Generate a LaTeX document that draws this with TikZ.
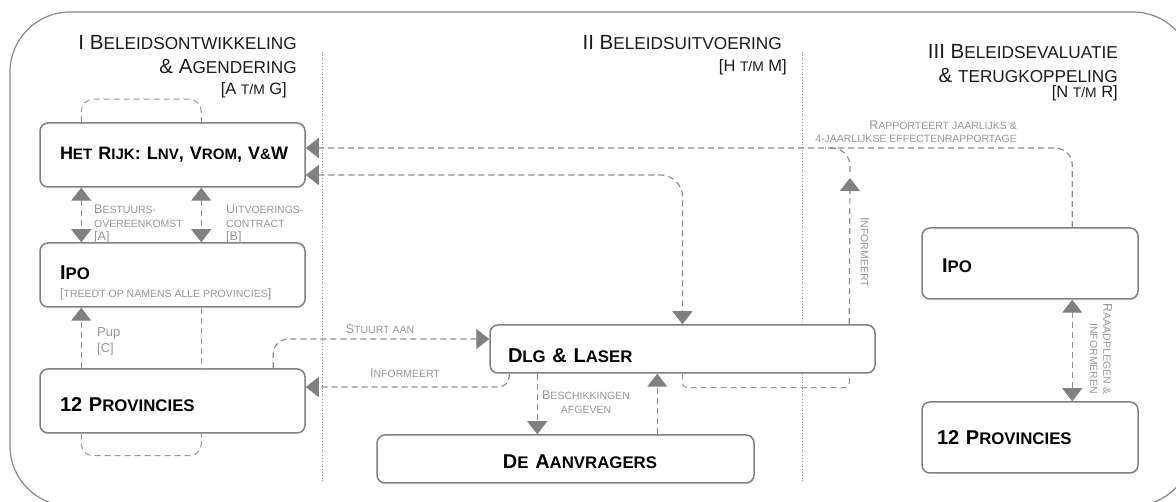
\documentclass[tikz,border=0pt]{standalone}
\usepackage{fontspec}
\setmainfont{Liberation Sans}
\usetikzlibrary{arrows.meta,calc}
\definecolor{framecol}{HTML}{888888}
\definecolor{boxline}{HTML}{7F7F7F}
\definecolor{conncol}{HTML}{8C8C8C}
\definecolor{tipcol}{HTML}{808080}
\definecolor{lblcol}{HTML}{969696}
\definecolor{sepcol}{HTML}{A0A0A0}
\definecolor{hdrcol}{HTML}{1A1A1A}
\makeatletter
\newcommand\lo[1]{{\@tempdima=\f@size pt\@tempdima=0.84\@tempdima\fontsize{\strip@pt\@tempdima}{\f@baselineskip}\selectfont #1}}
\makeatother
\tikzset{
  box/.style={draw=boxline, line width=1.5pt, rounded corners=8pt, fill=white,
    inner ysep=0pt, align=left, text depth=0pt, text=black,
    font=\fontsize{20}{24}\selectfont\bfseries},
  conn/.style={draw=conncol, line width=1.2pt, dash pattern=on 6pt off 4pt},
  loopline/.style={draw=lblcol, line width=1pt, dash pattern=on 6pt off 4pt},
  lbl/.style={text=lblcol, font=\fontsize{12.5}{13.3}\selectfont, inner sep=0pt},
  hdr/.style={font=\fontsize{20.5}{24}\selectfont, text=hdrcol, inner sep=0pt, anchor=base east},
  hdrs/.style={hdr, font=\fontsize{16.5}{20}\selectfont},
  sepline/.style={draw=sepcol, line width=0.8pt, dotted},
  >={Triangle[width=20pt,length=13pt,color=tipcol]},
}
\begin{document}
\begin{tikzpicture}[x=1pt,y=-1pt]
\useasboundingbox (0,0) rectangle (1176,502);
\begin{scope}
  \clip (0,0) rectangle (1176,502);
  \draw[draw=framecol, line width=1.2pt, rounded corners=60pt] (10,12) rectangle (1193,506);
\end{scope}

% separators
\draw[sepline] (322,52) -- (322,483);
\draw[sepline] (802,52) -- (802,483);

% headers
\node[hdr] (h1a) at (297,50) {I B\lo{ELEIDSONTWIKKELING}};
\node[hdr] (h1b) at (297,74) {\& A\lo{GENDERING}};
\node[hdrs] (h1c) at (287,95) {[A \lo{T/M} G]};
\node[hdr] (h2a) at (782,50) {II B\lo{ELEIDSUITVOERING}};
\node[hdrs] (h2b) at (787,72) {[H \lo{T/M} M]};
\node[hdr] (h3a) at (1118,59) {III B\lo{ELEIDSEVALUATIE}};
\node[hdr] (h3b) at (1118,83) {\& \lo{TERUGKOPPELING}};
\node[hdrs] (h3c) at (1118,98) {[N \lo{T/M} R]};

% boxes
\node[box, minimum width=265pt, minimum height=64pt, text width=225pt, inner xsep=20pt,
  text height=10pt, font=\fontsize{18}{22}\selectfont\bfseries] (rijk) at (172.5,155)
  {\mbox{H\lo{ET} R\lo{IJK}: L\lo{NV}, V\lo{ROM}, V\lo{\&}W}};
\node[box, minimum width=265pt, minimum height=64pt, text width=225pt, inner xsep=20pt,
  text height=10pt] (ipoL) at (172.5,275) {I\lo{PO}};
\node[lbl, anchor=base west] (ipoSub) at (60,298) {[\lo{TREEDT OP NAMENS ALLE PROVINCIES}]};
\node[box, minimum width=265pt, minimum height=64pt, text width=225pt, inner xsep=20pt,
  text height=22pt] (provL) at (172.5,401) {12 P\lo{ROVINCIES}};
\node[box, minimum width=385pt, minimum height=48pt, text width=349pt, inner xsep=18pt,
  text height=28pt] (dlg) at (682.5,349) {D\lo{LG} \& L\lo{ASER}};
\node[box, minimum width=377pt, minimum height=48pt, text width=377pt, inner xsep=0pt,
  text height=18pt, align=center] (aanv) at (565.5,459) {\hspace*{29pt}D\lo{E} A\lo{ANVRAGERS}};
\node[box, minimum width=216pt, minimum height=71pt, text width=176pt, inner xsep=20pt,
  text height=19pt] (ipoR) at (1030,263.5) {I\lo{PO}};
\node[box, minimum width=216pt, minimum height=71pt, text width=186pt, inner xsep=15pt,
  text height=15pt] (provR) at (1030,437.5) {12 P\lo{ROVINCIES}};

% left column connectors
\draw[loopline, rounded corners=12pt] ([xshift=42pt]rijk.north west) -- ++(0,-23) -| ([xshift=162pt]rijk.north west);
\draw[loopline, rounded corners=12pt] ([xshift=42pt]provL.south west) -- ++(0,22) -| ([xshift=162pt]provL.south west);
\draw[conn, <->] ([xshift=42pt]rijk.south west) -- ([xshift=42pt]ipoL.north west);
\draw[conn, <->] ([xshift=162pt]rijk.south west) -- ([xshift=162pt]ipoL.north west);
\draw[conn, ->] ([xshift=42pt]provL.north west) -- ([xshift=42pt]ipoL.south west);
\draw[loopline] ([xshift=162pt]ipoL.south west) -- ([xshift=162pt]provL.north west);

\node[lbl, anchor=north west, align=left] (lblA) at (94,205) {B\lo{ESTUURS-}\\\lo{OVEREENKOMST}\\{[A]}};
\node[lbl, anchor=north west, align=left] (lblB) at (226,205) {U\lo{ITVOERINGS-}\\\lo{CONTRACT}\\{[B]}};
\node[lbl, anchor=north west, align=left, font=\fontsize{13}{16}\selectfont] (lblC) at (97,327) {Pup\\{[C]}};

% long connectors
\draw[conn, ->, rounded corners=17pt] ([xshift=151pt]ipoR.north west) |- ([yshift=7pt]rijk.east);
\node[lbl, anchor=north east, align=right] (lRap) at (1017,120.5) {R\lo{APPORTEERT JAARLIJKS \&}\\\lo{4-JAARLIJKSE EFFECTENRAPPORTAGE}};
\draw[conn, <->, rounded corners=22pt] ([yshift=-20pt]rijk.east) -| (dlg.north);

% DLG informs upward
\coordinate (infTip) at (850,178);
\coordinate (infJoin) at (825,148);
\draw[conn, ->] ([xshift=360pt]dlg.north west) -- (infTip);
\draw[conn, rounded corners=18pt] ([yshift=6pt]infTip) |- (infJoin);
\draw[loopline, rounded corners=5pt] ([xshift=193pt]dlg.south west) -- ++(0,14) -| ([xshift=360pt]dlg.south west);
\node[lbl, rotate=-90] (lInfV) at (865,252) {I\lo{NFORMEERT}};

% DLG <-> provinces
\draw[conn, ->, rounded corners=15pt] ([xshift=234pt]provL.north west) |- ([yshift=10pt]dlg.west);
\node[lbl, anchor=base] (lSt) at (380,334) {S\lo{TUURT AAN}};
\draw[conn, ->, rounded corners=11pt] ([xshift=20pt]dlg.south west) |- ([yshift=14pt]provL.east);
\node[lbl, anchor=base] (lInf) at (405,378) {I\lo{NFORMEERT}};

% DLG <-> aanvragers
\draw[conn, ->] ([xshift=48pt]dlg.south west) -- ([xshift=161pt]aanv.north west);
\draw[conn, ->] ([xshift=281pt]aanv.north west) -- ([xshift=168pt]dlg.south west);
\node[lbl, anchor=north, align=center] (lBes) at (586,391) {B\lo{ESCHIKKINGEN}\\\lo{AFGEVEN}};

% right column
\draw[conn, <->] ([xshift=151pt]ipoR.south west) -- ([xshift=151pt]provR.north west);
\node[lbl, rotate=-90, align=right] (lRaad) at (1101,349) {R\lo{AAADPLEGEN \&}\\\lo{INFORMEREN}};
\end{tikzpicture}
\end{document}
